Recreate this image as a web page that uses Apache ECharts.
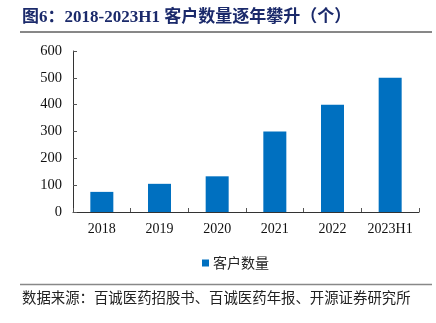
<!DOCTYPE html>
<html><head><meta charset="utf-8">
<script src="https://cdn.jsdelivr.net/npm/echarts@6/dist/echarts.min.js"></script>
<style>html,body{margin:0;padding:0;background:#fff}#c{width:436px;height:323px}</style>
</head><body><div id="c"></div>
<script>
const categories = ['2018','2019','2020','2021','2022','2023H1'];
const customers = [75, 105, 133, 300, 400, 500];
const seriesName = '客户数量';
const titleText = '图6：2018-2023H1 客户数量逐年攀升（个）';
const sourceText = '数据来源：百诚医药招股书、百诚医药年报、开源证券研究所';

const chart = echarts.init(document.getElementById('c'), null, {renderer:'canvas'});
const serif = '"Liberation Serif","Times New Roman",serif';
const cjk = '"Noto Sans CJK SC",sans-serif';
chart.setOption({
  animation:false,
  backgroundColor:'#fff',
  grid:{left:73,right:17,top:51,bottom:111,containLabel:false},
  legend:{data:[seriesName],top:251,left:197,itemWidth:7,itemHeight:7,icon:'rect',itemGap:4,
    textStyle:{fontFamily:cjk,fontSize:14,color:'#222',padding:[0,0,0,-1]}},
  xAxis:{type:'category',data:categories,
    axisLine:{lineStyle:{color:'#333',width:1}},
    axisTick:{show:true,inside:true,length:4,lineStyle:{color:'#555'}},
    axisLabel:{interval:0,fontFamily:serif,fontSize:14,color:'#111',margin:10,hideOverlap:false}},
  yAxis:{type:'value',min:0,max:600,interval:100,
    axisLine:{show:true,lineStyle:{color:'#333',width:1}},
    axisTick:{show:true,inside:true,length:4,lineStyle:{color:'#555'}},
    splitLine:{show:false},
    axisLabel:{fontFamily:serif,fontSize:14.5,color:'#111',margin:11}},
  series:[{name:seriesName,type:'bar',data:customers,barWidth:23,itemStyle:{color:'#0070C0'}}],
  graphic:[
    {type:'text',left:22,top:9,style:{text:titleText,font:'bold 17px '+serif+','+cjk,fill:'#1B2A6B'}},
    {type:'line',shape:{x1:20,y1:32,x2:432,y2:32},style:{stroke:'#111',lineWidth:1}},
    {type:'line',shape:{x1:20,y1:284.5,x2:432,y2:284.5},style:{stroke:'#888',lineWidth:1.5}},
    {type:'text',left:22,top:290,style:{text:sourceText,font:'14.4px '+cjk,fill:'#222'}}
  ]
});
</script></body></html>
